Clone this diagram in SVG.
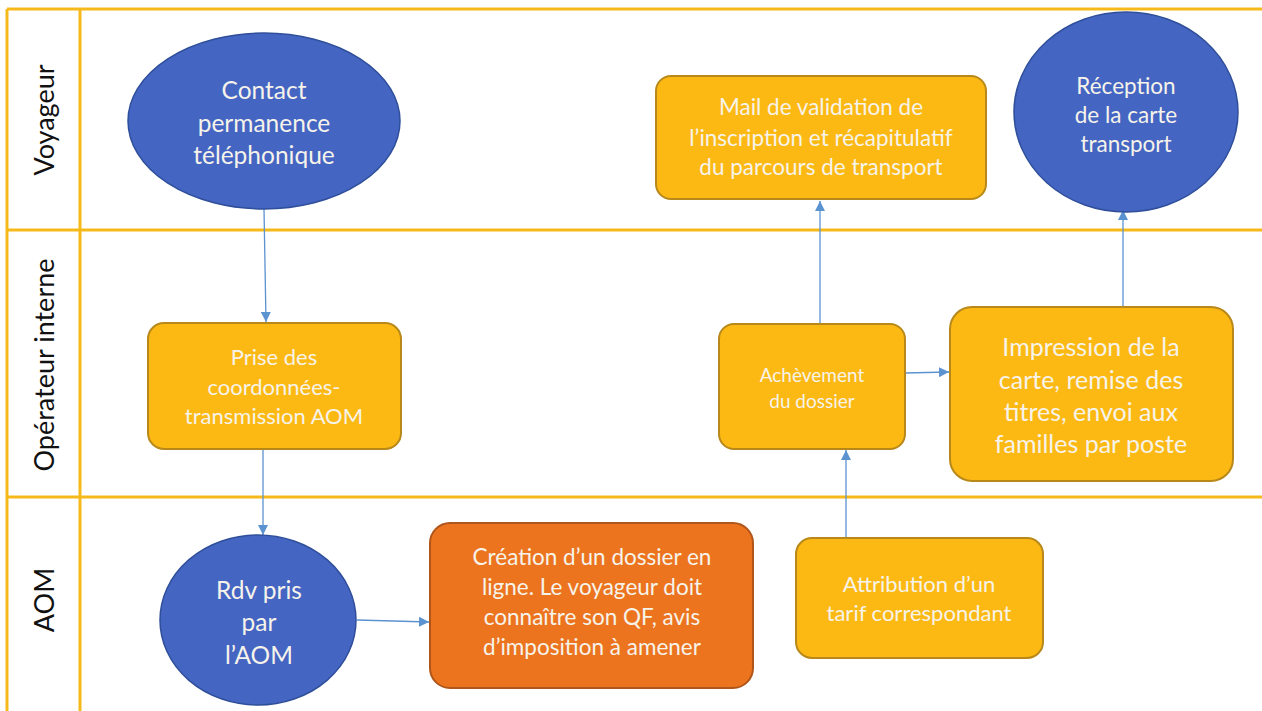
<svg xmlns="http://www.w3.org/2000/svg" width="1262" height="711" viewBox="0 0 1262 711">
<style>
.lane{stroke:#F5BA1A;stroke-width:3;fill:none}
.lbl{font-family:Lato,"Liberation Sans",sans-serif;font-size:27px;fill:#111;text-anchor:middle}
.ell{fill:#4565C3;stroke:#2F4F9A;stroke-width:1.5}
.box{fill:#FDB913;stroke:#B8891A;stroke-width:2}
.org{fill:#EC741F;stroke:#B0561A;stroke-width:2}
.t{font-family:Lato,"Liberation Sans",sans-serif;fill:#F6F3EA;text-anchor:middle}
.con{stroke:#5B92D0;stroke-width:1.3;fill:none;marker-end:url(#ah)}
</style>
<defs>
<marker id="ah" viewBox="0 0 10 10" refX="10" refY="5" markerWidth="10" markerHeight="10" markerUnits="userSpaceOnUse" orient="auto">
<path d="M0,0 L10,5 L0,10 z" fill="#5B92D0"/>
</marker>
</defs>
<rect width="1262" height="711" fill="#fff"/>
<g id="lanes">
<line class="lane" x1="7" y1="9" x2="1262" y2="9"/>
<line class="lane" x1="7" y1="9" x2="7" y2="711"/>
<line class="lane" x1="80" y1="9" x2="80" y2="711"/>
<line class="lane" x1="7" y1="230" x2="1262" y2="230"/>
<line class="lane" x1="7" y1="497" x2="1262" y2="497"/>
<text class="lbl" transform="translate(54,120) rotate(-90)">Voyageur</text>
<text class="lbl" transform="translate(54,365) rotate(-90)">Opérateur interne</text>
<text class="lbl" transform="translate(54,600) rotate(-90)">AOM</text>
</g>
<g id="connectors">
<line class="con" x1="264" y1="209" x2="266" y2="322"/>
<line class="con" x1="263" y1="449" x2="263" y2="535"/>
<line class="con" x1="357" y1="620" x2="429" y2="622"/>
<line class="con" x1="846" y1="538" x2="846" y2="450"/>
<line class="con" x1="820" y1="323" x2="820" y2="201"/>
<line class="con" x1="905" y1="373" x2="949" y2="372"/>
<line class="con" x1="1123" y1="307" x2="1123" y2="210"/>
</g>
<g id="contact">
<ellipse class="ell" cx="264" cy="121" rx="136" ry="88"/>
<text class="t" font-size="24.5" x="264" y="99">Contact</text>
<text class="t" font-size="24.5" x="264" y="132">permanence</text>
<text class="t" font-size="24.5" x="264" y="164">téléphonique</text>
</g>
<g id="mail">
<rect class="box" x="656" y="76" width="330" height="123" rx="15"/>
<text class="t" font-size="22.5" x="821" y="115">Mail de validation de</text>
<text class="t" font-size="22.5" x="821" y="146">l’inscription et récapitulatif</text>
<text class="t" font-size="22.5" x="821" y="175">du parcours de transport</text>
</g>
<g id="reception">
<ellipse class="ell" cx="1126" cy="112" rx="112" ry="100"/>
<text class="t" font-size="22.5" x="1126" y="94">Réception</text>
<text class="t" font-size="22.5" x="1126" y="123">de la carte</text>
<text class="t" font-size="22.5" x="1126" y="152">transport</text>
</g>
<g id="prise">
<rect class="box" x="148" y="323" width="253" height="126" rx="16"/>
<text class="t" font-size="22" x="274" y="365">Prise des</text>
<text class="t" font-size="22" x="274" y="395">coordonnées-</text>
<text class="t" font-size="22" x="274" y="424">transmission AOM</text>
</g>
<g id="achevement">
<rect class="box" x="719" y="324" width="186" height="125" rx="15"/>
<text class="t" font-size="19" x="812" y="382">Achèvement</text>
<text class="t" font-size="19" x="812" y="408">du dossier</text>
</g>
<g id="impression">
<rect class="box" x="950" y="307" width="283" height="174" rx="22"/>
<text class="t" font-size="25" x="1091" y="356">Impression de la</text>
<text class="t" font-size="25" x="1091" y="389">carte, remise des</text>
<text class="t" font-size="25" x="1091" y="421">titres, envoi aux</text>
<text class="t" font-size="25" x="1091" y="453">familles par poste</text>
</g>
<g id="rdv">
<ellipse class="ell" cx="258" cy="620" rx="98" ry="85"/>
<text class="t" font-size="24.5" x="259" y="599">Rdv pris</text>
<text class="t" font-size="24.5" x="259" y="631">par</text>
<text class="t" font-size="24.5" x="259" y="664">l’AOM</text>
</g>
<g id="creation">
<rect class="org" x="430" y="523" width="323" height="165" rx="20"/>
<text class="t" font-size="22.5" x="592" y="565">Création d’un dossier en</text>
<text class="t" font-size="22.5" x="592" y="595">ligne. Le voyageur doit</text>
<text class="t" font-size="22.5" x="592" y="625">connaître son QF, avis</text>
<text class="t" font-size="22.5" x="592" y="655">d’imposition à amener</text>
</g>
<g id="attribution">
<rect class="box" x="796" y="538" width="247" height="120" rx="16"/>
<text class="t" font-size="22" x="919" y="592">Attribution d’un</text>
<text class="t" font-size="22" x="919" y="621">tarif correspondant</text>
</g>
</svg>
